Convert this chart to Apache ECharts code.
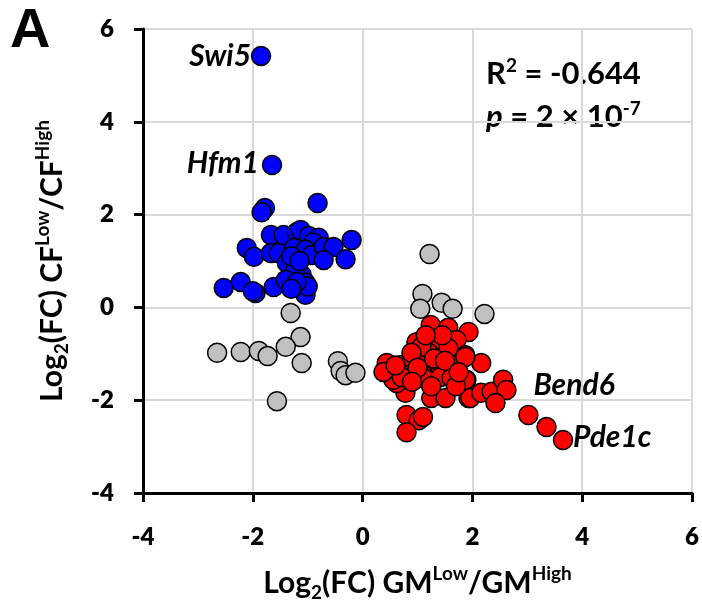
<!DOCTYPE html>
<html>
<head>
<meta charset="utf-8">
<script src="https://cdn.jsdelivr.net/npm/echarts@6/dist/echarts.min.js"></script>
<style>
  html, body { margin: 0; padding: 0; background: #fff; }
  #chart { width: 702px; height: 608px; }
</style>
</head>
<body>
<div id="chart"></div>
<script>
// axis ticks
const xTicks = [-4, -2, 0, 2, 4, 6];
const yTicks = [-4, -2, 0, 2, 4, 6];

// up-regulated in CF low (blue)
const bluePoints = [
  [-1.85, 5.42], [-1.65, 3.07], [-1.78, 2.14], [-1.84, 2.05], [-0.82, 2.25],
  [-0.2, 1.45], [-1.67, 1.56], [-1.44, 1.56], [-1.2, 1.62], [-1.13, 1.67],
  [-0.98, 1.54], [-0.8, 1.5], [-0.9, 1.4], [-2.11, 1.28], [-1.98, 1.09],
  [-1.67, 1.17], [-1.53, 1.17], [-1.25, 1.28], [-1.04, 1.24], [-0.93, 1.13],
  [-0.71, 1.3], [-0.53, 1.3], [-0.71, 1.02], [-0.31, 1.04], [-1.38, 0.96],
  [-1.11, 0.7], [-1.22, 0.81], [-1.3, 1.1], [-1.15, 1.0], [-2.53, 0.42],
  [-2.22, 0.55], [-1.95, 0.31], [-2.0, 0.35], [-1.62, 0.44], [-1.4, 0.59],
  [-1.04, 0.53], [-1.04, 0.27], [-1.0, 0.45], [-1.2, 0.55], [-1.3, 0.4]
];

// down-regulated (red)
const redPoints = [
  [1.24, -0.38], [1.56, -0.44], [1.93, -0.53], [0.98, -0.75], [1.35, -0.75],
  [1.71, -0.7], [1.87, -1.03], [1.2, -0.98], [0.98, -1.18], [0.44, -1.2],
  [0.71, -1.24], [1.65, -1.24], [1.38, -1.24], [1.11, -1.46], [1.42, -1.41],
  [0.84, -1.46], [0.56, -1.41], [1.07, -0.85], [0.89, -0.98], [1.56, -0.88],
  [1.11, -1.52], [0.78, -1.84], [1.25, -1.95], [1.51, -1.95], [1.93, -1.95],
  [1.89, -1.56], [0.8, -2.32], [1.02, -2.43], [1.1, -2.36], [0.8, -2.69],
  [0.62, -1.63], [0.56, -1.56], [0.71, -1.5], [1.42, -1.5], [1.62, -1.52],
  [0.38, -1.39], [2.16, -1.2], [1.87, -1.07], [1.87, -1.56], [1.96, -1.95],
  [2.16, -1.84], [2.35, -1.82], [2.56, -1.56], [2.62, -1.78], [2.42, -2.06],
  [1.3, -1.1], [1.5, -1.15], [1.0, -1.3], [0.9, -1.6], [1.25, -1.7],
  [1.7, -1.7], [1.45, -0.6], [1.15, -0.6], [0.6, -1.25], [1.75, -1.4],
  [3.02, -2.32], [3.35, -2.58], [3.65, -2.86]
];

// not significant (gray)
const grayPoints = [
  [-1.31, -0.12], [-1.13, -0.64], [-1.4, -0.85], [-2.65, -0.98], [-2.22, -0.96],
  [-1.89, -0.94], [-1.73, -1.05], [-1.11, -1.2], [-0.45, -1.16], [-0.4, -1.37],
  [-0.31, -1.46], [-0.13, -1.41], [-1.56, -2.02],
  [1.22, 1.15], [1.09, 0.29], [1.05, -0.03], [1.44, 0.1], [1.64, -0.03], [2.22, -0.14]
];

// labelled genes
const geneNames = ['Swi5', 'Hfm1', 'Bend6', 'Pde1c'];
const genePoints = [[-1.85, 5.42], [-1.65, 3.07], [3.02, -2.32], [3.65, -2.86]];

const FONT = 'Lato';
const geneLabelOpts = {
  Swi5: { position: 'left', distance: 10, offset: [0, 0] },
  Hfm1: { position: 'left', distance: 13, offset: [0, -2] },
  Bend6: { position: 'right', distance: 5, offset: [0, -30] },
  Pde1c: { position: 'right', distance: 10, offset: [0, -3] }
};

const markerStyle = (color) => ({ color: color, borderColor: '#000', borderWidth: 1.5, opacity: 1 });

const axisRich = {
  n: { fontSize: 30, fontWeight: 'bold', fontFamily: FONT, color: '#000', lineHeight: 38 },
  s: { fontSize: 19, fontWeight: 'bold', fontFamily: FONT, color: '#000', verticalAlign: 'bottom' },
  p: { fontSize: 19, fontWeight: 'bold', fontFamily: FONT, color: '#000', verticalAlign: 'top' }
};

const axisCommon = {
  type: 'value',
  min: -4,
  max: 6,
  interval: 2,
  axisLine: { show: true, onZero: false, lineStyle: { color: '#000', width: 3 } },
  axisTick: { show: true, inside: false, length: 9, lineStyle: { color: '#000', width: 3 } },
  splitLine: { show: true, lineStyle: { color: '#d9d9d9', width: 2 } },
  axisLabel: { color: '#000', fontSize: 24, fontWeight: 800, fontFamily: FONT },
  nameLocation: 'middle',
  nameTextStyle: { rich: axisRich }
};

const chart = echarts.init(document.getElementById('chart'));

chart.setOption({
  animation: false,
  backgroundColor: '#fff',
  grid: { left: 143, right: 10, top: 29, bottom: 115, containLabel: false, outerBoundsMode: 'none' },
  xAxis: Object.assign({}, axisCommon, {
    name: '{n|Log}{s|2}{n|(FC) GM}{p|Low}{n|/GM}{p|High}',
    nameGap: 71,
    axisLabel: Object.assign({}, axisCommon.axisLabel, { margin: 32, formatter: v => xTicks.includes(v) ? String(v) : '' })
  }),
  yAxis: Object.assign({}, axisCommon, {
    name: '{n|Log}{s|2}{n|(FC) CF}{p|Low}{n|/CF}{p|High}',
    nameGap: 72,
    nameRotate: 90,
    axisLabel: Object.assign({}, axisCommon.axisLabel, { margin: 29, formatter: v => yTicks.includes(v) ? String(v) : '' })
  }),
  series: [
    { type: 'scatter', symbolSize: 19, data: grayPoints, itemStyle: markerStyle('#c0c0c0') },
    { type: 'scatter', symbolSize: 19, data: bluePoints, itemStyle: markerStyle('#0000ff') },
    { type: 'scatter', symbolSize: 19, data: redPoints, itemStyle: markerStyle('#ff0000') },
    {
      type: 'scatter',
      symbolSize: 0,
      silent: true,
      itemStyle: { opacity: 1 },
      data: geneNames.map((n, i) => ({
        name: n,
        value: genePoints[i],
        label: Object.assign({
          show: true,
          formatter: n,
          color: '#000',
          fontSize: 30,
          fontWeight: 'bold',
          fontStyle: 'italic',
          fontFamily: FONT
        }, geneLabelOpts[n])
      }))
    }
  ],
  graphic: [
    {
      type: 'text', left: 10, top: 4,
      style: { text: 'A', fontSize: 56, fontWeight: 'bold', fontFamily: 'Liberation Sans', fill: '#000' }
    },
    {
      type: 'text', left: 486, top: 56,
      style: {
        text: '{n|R}{p|2}{n| = -0.644}\n{i|p}{n| = 2 × 10}{p|-7}',
        rich: {
          n: { fontSize: 31, fontWeight: 'bold', fontFamily: FONT, fill: '#000', lineHeight: 43 },
          i: { fontSize: 31, fontWeight: 'bold', fontStyle: 'italic', fontFamily: FONT, fill: '#000', lineHeight: 43 },
          p: { fontSize: 19, fontWeight: 'bold', fontFamily: FONT, fill: '#000', verticalAlign: 'top', padding: [4, 0, 0, 0] }
        }
      }
    }
  ]
});
</script>
</body>
</html>
